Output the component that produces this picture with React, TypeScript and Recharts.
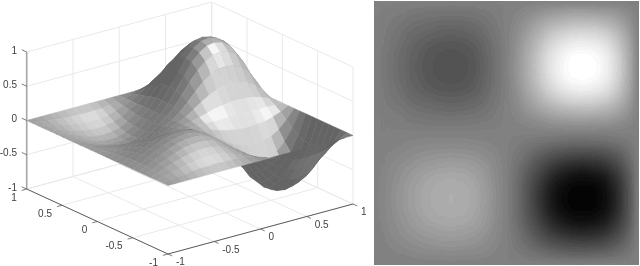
import { Scatter, ScatterChart, XAxis, YAxis } from 'recharts'

// z, in hundredths, top row is y = 1, left column is x = -1
const gridTicks = [-1, -0.5, 0, 0.5, 1]
const tickLabels = ['-1', '-0.5', '0', '0.5', '1']
const zRows = [
  [0,0,0,0,0,0,0,0,0,0,0,0,0,0,0,0,0,0,0,0,0,0,0,0,0],
  [0,-1,-3,-4,-6,-7,-7,-8,-7,-7,-5,-2,0,3,8,12,17,20,22,22,21,19,15,8,0],
  [0,-3,-6,-9,-12,-14,-16,-16,-16,-14,-10,-5,0,7,16,26,35,41,45,46,45,40,31,17,0],
  [0,-4,-9,-14,-18,-21,-23,-24,-23,-20,-15,-7,0,10,24,38,52,61,67,68,66,60,46,26,0],
  [0,-5,-11,-17,-22,-27,-29,-30,-29,-26,-19,-9,0,13,30,48,65,77,84,86,83,76,58,33,0],
  [0,-6,-13,-19,-25,-30,-33,-34,-33,-29,-21,-11,0,15,34,54,74,87,95,97,94,85,66,37,0],
  [0,-6,-13,-20,-26,-31,-34,-35,-34,-30,-22,-11,0,15,35,56,76,90,98,100,97,88,68,38,0],
  [0,-6,-13,-19,-25,-30,-33,-34,-33,-29,-21,-11,0,15,34,54,74,87,95,97,94,85,66,37,0],
  [0,-5,-11,-17,-22,-27,-29,-30,-29,-26,-19,-9,0,13,30,48,65,77,84,86,83,76,58,33,0],
  [0,-4,-9,-13,-17,-20,-22,-23,-22,-20,-15,-7,0,10,23,37,50,59,65,66,64,58,45,25,0],
  [0,-3,-5,-8,-11,-13,-14,-15,-14,-13,-9,-5,0,6,15,24,32,38,41,42,41,37,29,16,0],
  [0,-1,-2,-4,-5,-6,-6,-6,-6,-5,-4,-2,0,3,6,10,14,16,18,18,17,16,12,7,0],
  [0,0,0,0,0,0,0,0,0,0,0,0,0,0,0,0,0,0,0,0,0,0,0,0,0],
  [0,1,2,4,5,6,6,6,6,5,4,2,0,-3,-6,-10,-14,-16,-18,-18,-17,-16,-12,-7,0],
  [0,3,5,8,11,13,14,15,14,13,9,5,0,-6,-15,-24,-32,-38,-41,-42,-41,-37,-29,-16,0],
  [0,4,9,13,17,20,22,23,22,20,15,7,0,-10,-23,-37,-50,-59,-65,-66,-64,-58,-45,-25,0],
  [0,5,11,17,22,27,29,30,29,26,19,9,0,-13,-30,-48,-65,-77,-84,-86,-83,-76,-58,-33,0],
  [0,6,13,19,25,30,33,34,33,29,21,11,0,-15,-34,-54,-74,-87,-95,-97,-94,-85,-66,-37,0],
  [0,6,13,20,26,31,34,35,34,30,22,11,0,-15,-35,-56,-76,-90,-98,-100,-97,-88,-68,-38,0],
  [0,6,13,19,25,30,33,34,33,29,21,11,0,-15,-34,-54,-74,-87,-95,-97,-94,-85,-66,-37,0],
  [0,5,11,17,22,27,29,30,29,26,19,9,0,-13,-30,-48,-65,-77,-84,-86,-83,-76,-58,-33,0],
  [0,4,9,14,18,21,23,24,23,20,15,7,0,-10,-24,-38,-52,-61,-67,-68,-66,-60,-46,-26,0],
  [0,3,6,9,12,14,16,16,16,14,10,5,0,-7,-16,-26,-35,-41,-45,-46,-45,-40,-31,-17,0],
  [0,1,3,4,6,7,7,8,7,7,5,2,0,-3,-8,-12,-17,-20,-22,-22,-21,-19,-15,-8,0],
  [0,0,0,0,0,0,0,0,0,0,0,0,0,0,0,0,0,0,0,0,0,0,0,0,0],
]

const N = zRows.length - 1
const nodeX = (c: number) => -1 + (2 * c) / N
const nodeY = (r: number) => 1 - (2 * r) / N

// surface height on the z axis compared to the image scale
const Z_SCALE = 0.86

// the left chart is 370x266 so one axis unit is one pixel
const PANEL_W = 370
const PANEL_H = 266
const project = (x: number, y: number, z: number) => ({
  u: 168 + ((x + 1) / 2) * 185 - ((y + 1) / 2) * 141.3,
  v: PANEL_H - (254 - ((x + 1) / 2) * 50 - ((y + 1) / 2) * 65 - (z + 1) * 68.5),
})

const norm = (a: number[]) => {
  const l = Math.hypot(a[0], a[1], a[2])
  return a.map((c) => c / l)
}
const LIGHT = norm([0.45, -0.65, 0.6])
const VIEW = norm([-0.57, -0.74, 0.35])
const GLOSS = norm([-0.1, -0.6, 0.78])
const dot = (a: number[], b: number[]) => a[0] * b[0] + a[1] * b[1] + a[2] * b[2]

const at = (r: number, c: number) => zRows[Math.max(0, Math.min(N, r))][Math.max(0, Math.min(N, c))] / 100

// slope over a wider stencil than the facet, keeps the shading from getting blocky
function facetGray(r: number, c: number) {
  let zx = 0
  let zy = 0
  for (const i of [r - 1, r, r + 1, r + 2]) zx += at(i, c + 2) + at(i, c + 1) - at(i, c) - at(i, c - 1)
  for (const j of [c - 1, c, c + 1, c + 2]) zy += at(r - 1, j) + at(r, j) - at(r + 1, j) - at(r + 2, j)
  const scale = (Z_SCALE * N) / 32
  let n = norm([-zx * scale * 0.6, -zy * scale * 0.6, 1])
  if (dot(n, VIEW) < 0) n = n.map((v) => -v)
  const d = Math.max(dot(n, LIGHT), 0)
  const g = Math.max(dot(n, GLOSS), 0)
  return Math.min(245, Math.round(100 + 82 * d + 55 * Math.pow(g, 10) + 32 * Math.pow(g, 50)))
}

// far corner first so nearer facets paint over
const facets: { u: number; v: number; corners: { u: number; v: number }[]; gray: number }[] = []
for (let r = 0; r < N; r++) {
  for (let c = N - 1; c >= 0; c--) {
    const corners = [
      [r, c],
      [r, c + 1],
      [r + 1, c + 1],
      [r + 1, c],
    ].map(([i, j]) => project(nodeX(j), nodeY(i), (zRows[i][j] / 100) * Z_SCALE))
    facets.push({
      u: corners.reduce((a, p) => a + p.u, 0) / 4,
      v: corners.reduce((a, p) => a + p.v, 0) / 4,
      corners,
      gray: facetGray(r, c),
    })
  }
}

const heatCells = zRows.flatMap((row, r) => row.map((z, c) => ({ x: nodeX(c), y: nodeY(r), z })))

const seg = (a: number[], b: number[]) => [project(a[0], a[1], a[2]), project(b[0], b[1], b[2])]

const gridLines = gridTicks.flatMap((t) => [
  seg([t, -1, -1], [t, 1, -1]),
  seg([-1, t, -1], [1, t, -1]),
  seg([t, 1, -1], [t, 1, 1]),
  seg([1, t, -1], [1, t, 1]),
  seg([-1, 1, t], [1, 1, t]),
  seg([1, -1, t], [1, 1, t]),
])

const axisLines = [seg([-1, 1, -1], [-1, -1, -1]), seg([-1, -1, -1], [1, -1, -1])]
const tickMarks = gridTicks.flatMap((t) => [
  seg([-1, t, -1], [-1.055, t, -1]),
  seg([t, -1, -1], [t, -1.06, -1]),
  seg([-1, 1, t], [-1, 1.07, t]),
])

const labelRows = gridTicks.flatMap((t, i) => [
  { ...project(-1, 1, t), text: tickLabels[i], anchor: 'end', dx: -9.7, dy: -2 },
  { ...project(-1, t, -1), text: tickLabels[i], anchor: 'end', dx: -10, dy: 8 },
  { ...project(t, -1, -1), text: tickLabels[i], anchor: 'start', dx: 8, dy: 7.5 },
])

const NoDot = () => <g />

function Facet({ cx, cy, payload }: any) {
  const pts = payload.corners.map((p: any) => `${cx + p.u - payload.u},${cy - (p.v - payload.v)}`).join(' ')
  const fill = `rgb(${payload.gray},${payload.gray},${payload.gray})`
  return <polygon points={pts} fill={fill} stroke={fill} strokeWidth={0.5} />
}

function TickText({ cx, cy, payload }: any) {
  return (
    <text
      x={cx + payload.dx}
      y={cy + payload.dy}
      textAnchor={payload.anchor}
      dominantBaseline="central"
      fontSize={10}
      fontFamily="Liberation Sans"
      fill="#404040"
    >
      {payload.text}
    </text>
  )
}

const HEAT_W = 265
const HEAT_H = 264
const BAND_LEVELS = Array.from({ length: 56 }, (_, i) => (i / 55).toFixed(3)).join(' ')

function HeatCell({ cx, cy, payload }: any) {
  const w = HEAT_W / N + 0.6
  const h = HEAT_H / N + 0.6
  const g = Math.max(8, Math.min(255, Math.round(128 + (payload.z / 100) * 130)))
  return <rect x={cx - w / 2} y={cy - h / 2} width={w} height={h} fill={`rgb(${g},${g},${g})`} />
}

const panelMargin = { top: 0, right: 0, bottom: 0, left: 0 }
const layer = { position: 'absolute', left: 0, top: 0 } as const

export default function App() {
  return (
    <div style={{ position: 'absolute', left: 0, top: 0, width: 640, height: 266, background: '#fff', overflow: 'hidden' }}>
      <svg width={0} height={0} style={{ position: 'absolute' }}>
        <filter id="heatBands" colorInterpolationFilters="sRGB" x="0" y="0" width="100%" height="100%">
          <feGaussianBlur stdDeviation={4} />
          <feComponentTransfer>
            <feFuncR type="discrete" tableValues={BAND_LEVELS} />
            <feFuncG type="discrete" tableValues={BAND_LEVELS} />
            <feFuncB type="discrete" tableValues={BAND_LEVELS} />
          </feComponentTransfer>
        </filter>
      </svg>
      <div style={{ ...layer, filter: 'blur(0.35px)' }}>
        <ScatterChart width={PANEL_W} height={PANEL_H} margin={panelMargin}>
          <XAxis type="number" dataKey="u" domain={[0, PANEL_W]} hide />
          <YAxis type="number" dataKey="v" domain={[0, PANEL_H]} hide />
          {gridLines.map((l, i) => (
            <Scatter key={`g${i}`} data={l} shape={NoDot} line={{ stroke: '#e9e9e9', strokeWidth: 1 }} isAnimationActive={false} />
          ))}
          <Scatter data={seg([-1, 1, -1], [-1, 1, 1])} shape={NoDot} line={{ stroke: '#a6a6a6', strokeWidth: 1.6 }} isAnimationActive={false} />
          {axisLines.map((l, i) => (
            <Scatter key={`a${i}`} data={l} shape={NoDot} line={{ stroke: '#5c5c5c', strokeWidth: 1 }} isAnimationActive={false} />
          ))}
          {tickMarks.map((l, i) => (
            <Scatter key={`t${i}`} data={l} shape={NoDot} line={{ stroke: '#5c5c5c', strokeWidth: 0.8 }} isAnimationActive={false} />
          ))}
          <Scatter data={labelRows} shape={TickText} isAnimationActive={false} />
        </ScatterChart>
      </div>
      <div style={{ ...layer, filter: 'blur(0.7px)' }}>
        <ScatterChart width={PANEL_W} height={PANEL_H} margin={panelMargin}>
          <XAxis type="number" dataKey="u" domain={[0, PANEL_W]} hide />
          <YAxis type="number" dataKey="v" domain={[0, PANEL_H]} hide />
          <Scatter data={facets} shape={Facet} isAnimationActive={false} />
        </ScatterChart>
      </div>
      <div style={{ position: 'absolute', left: 373.5, top: 1, width: HEAT_W, height: HEAT_H, overflow: 'hidden', background: '#808080' }}>
        <div style={{ filter: 'url(#heatBands)' }}>
          <ScatterChart width={HEAT_W} height={HEAT_H} margin={panelMargin}>
            <XAxis type="number" dataKey="x" domain={[-1, 1]} hide />
            <YAxis type="number" dataKey="y" domain={[-1, 1]} hide />
            <Scatter data={heatCells} shape={HeatCell} isAnimationActive={false} />
          </ScatterChart>
        </div>
      </div>
    </div>
  )
}
